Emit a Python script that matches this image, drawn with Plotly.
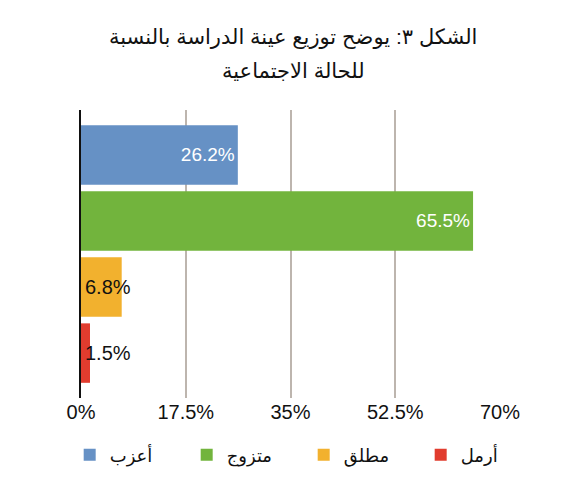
import plotly.graph_objects as go

categories = ["أعزب", "متزوج", "مطلق", "أرمل"]
values = [26.2, 65.5, 6.8, 1.5]
colors = ["#6691c5", "#72b43d", "#f2b12e", "#e13c2e"]
tick_vals = [0, 17.5, 35, 52.5, 70]
tick_text = ["0%", "17.5%", "35%", "52.5%", "70%"]
title_lines = ["الشكل ٣: يوضح توزيع عينة الدراسة بالنسبة", "للحالة الاجتماعية"]

font_family = "Liberation Sans, DejaVu Sans, sans-serif"

fig = go.Figure()
for cat, val, col in zip(categories, values, colors):
    big = val > 15
    fig.add_trace(go.Bar(
        x=[val], y=[cat], name=cat, orientation="h",
        marker=dict(color=col, line=dict(width=0)),
        text=[f"{val}%"] if big else None,
        textposition="inside", insidetextanchor="end",
        textfont=dict(color="white", size=19, family=font_family),
        hoverinfo="skip",
    ))
    if not big:
        fig.add_annotation(x=0, y=cat, text=f"{val}%", showarrow=False,
                           xanchor="left", xshift=2,
                           font=dict(color="#111111", size=20, family=font_family))

# title, two lines with wider spacing than plotly's <br>
for i, line in enumerate(title_lines):
    fig.add_annotation(text=line, xref="paper", yref="paper",
                       x=0.506, y=1.255 - 0.118 * i,
                       xanchor="center", yanchor="middle", showarrow=False,
                       font=dict(size=21, color="#111111", family=font_family))

# page body has an 8px margin, so the figure is 580x492
fig.update_layout(
    width=580, height=492,
    margin=dict(l=73, r=88, t=102, b=102, autoexpand=False),
    paper_bgcolor="white", plot_bgcolor="white",
    barmode="relative", bargap=0.1,
    font=dict(family=font_family, color="#111111"),
    showlegend=True,
    legend=dict(orientation="h", x=-0.027, xanchor="left",
                y=-0.198, yanchor="middle",
                font=dict(size=18, color="#111111"),
                traceorder="normal", entrywidth=72, entrywidthmode="pixels"),
)
fig.update_xaxes(range=[0, 70], tickvals=tick_vals, ticktext=tick_text,
                 showgrid=True, gridcolor="#bdb5ae", gridwidth=2,
                 zeroline=False, showline=False, automargin=False,
                 tickfont=dict(size=20, color="#111111"), ticks="", fixedrange=True)
fig.update_yaxes(categoryorder="array", categoryarray=categories,
                 range=[3.68, -0.68], showticklabels=False, showgrid=False,
                 automargin=False,
                 showline=True, linecolor="#111111", linewidth=2, ticks="")

fig.write_html("out.html")
